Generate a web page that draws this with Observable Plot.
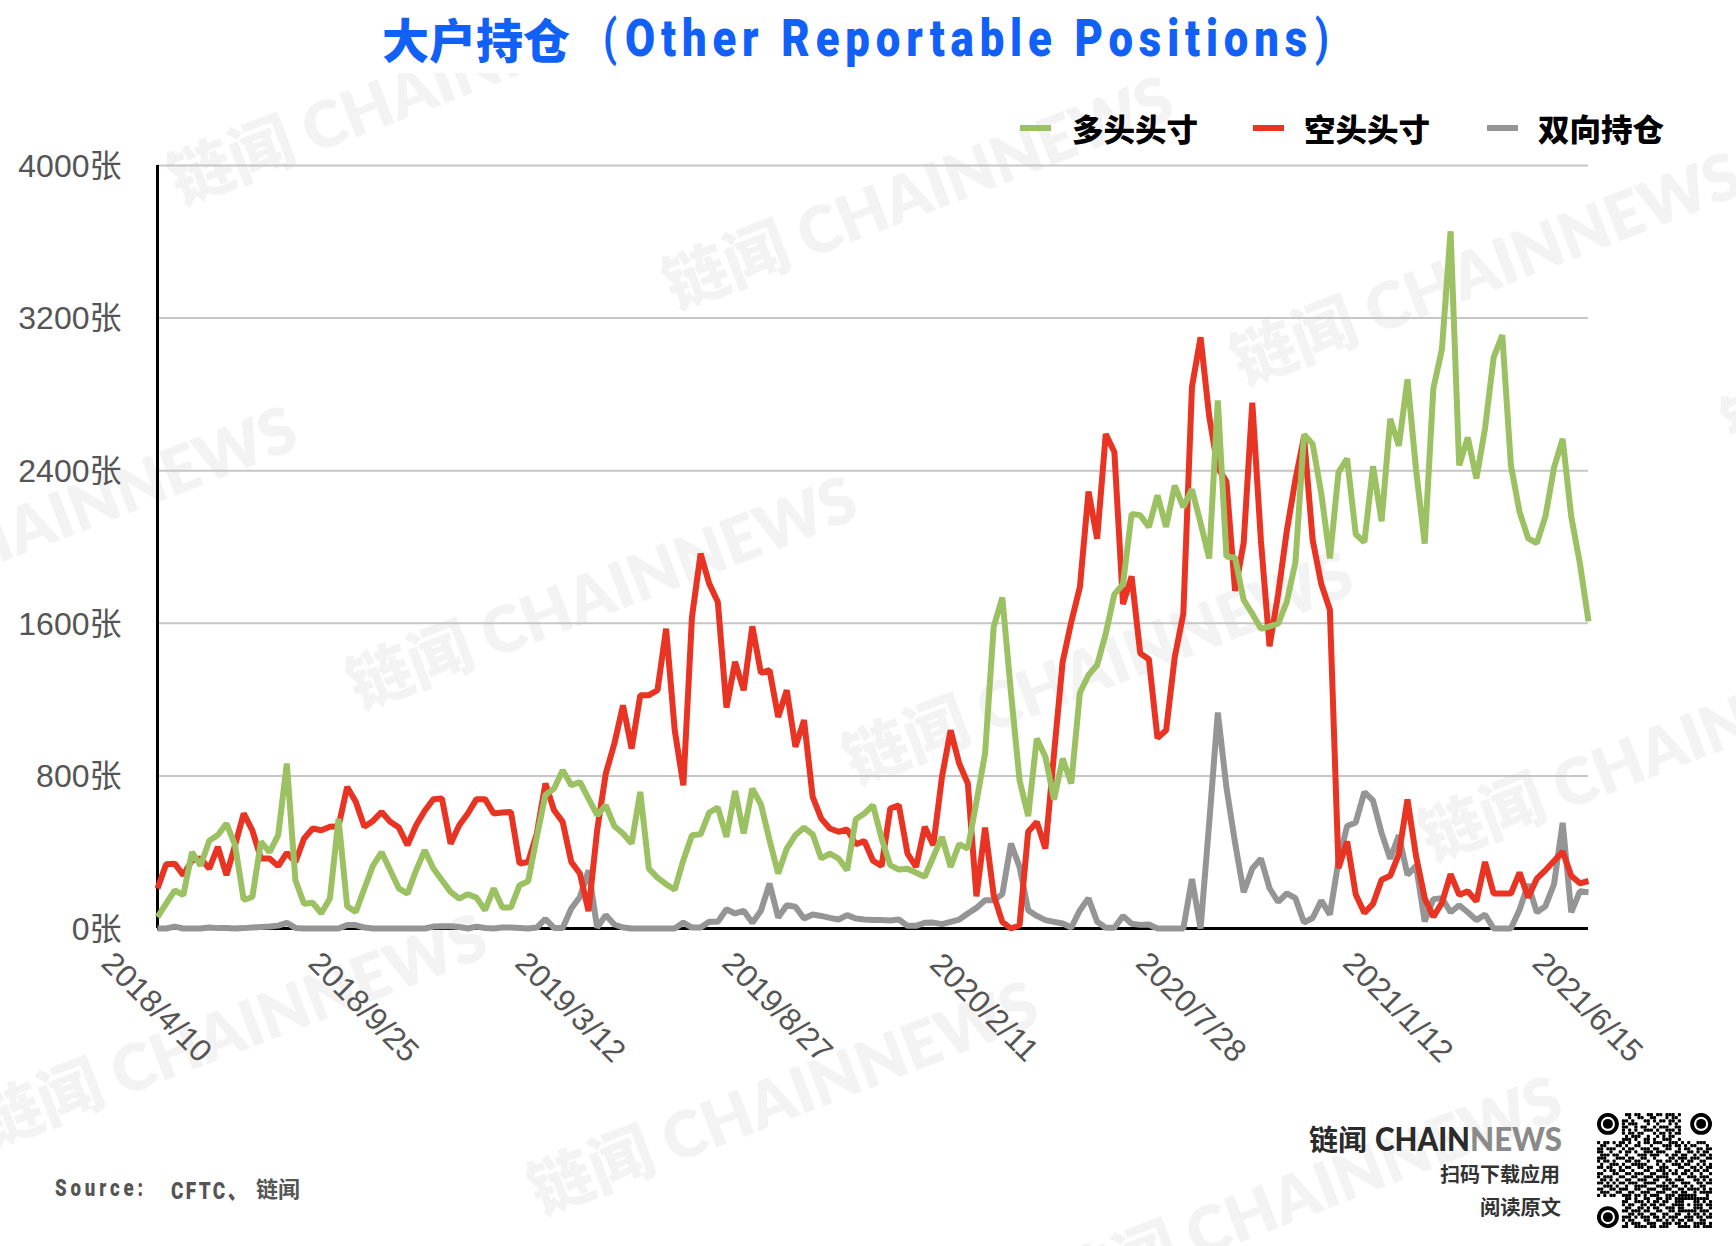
<!DOCTYPE html>
<html lang="zh">
<head>
<meta charset="utf-8">
<script src="https://cdn.jsdelivr.net/npm/d3@7"></script>
<script src="https://cdn.jsdelivr.net/npm/@observablehq/plot@0.6"></script>
<style>
html,body{margin:0;padding:0;background:#fff;overflow:hidden}
#stage{position:relative;width:1736px;height:1246px;overflow:hidden;background:#fff}
#marks,#chart,#over{position:absolute;left:0;top:0;width:1736px;height:1246px}
#chart svg{background:transparent;display:block;max-width:none}
.t{position:absolute;white-space:nowrap;line-height:1;transform-origin:left center}
</style>
</head>
<body>
<div id="stage"><div id="marks"></div><div id="chart"></div><div id="over"></div></div>
<script>
const firstWeek = "2018-04-10";
const weekCount = 167;
const tickLabels = ["2018/4/10","2018/9/25","2019/3/12","2019/8/27","2020/2/11","2020/7/28","2021/1/12","2021/6/15"];
const yTicks = [0,800,1600,2400,3200,4000];
const longPositions = [60,130,200,175,400,330,460,490,550,437,150,165,455,400,490,865,253,130,135,80,157,575,117,87,210,330,400,305,210,183,305,410,315,253,192,157,180,162,96,210,110,110,227,248,480,700,733,830,751,768,681,594,646,536,498,445,716,314,267,232,204,358,489,494,608,634,480,721,498,733,651,463,288,419,489,529,494,367,393,367,306,573,603,646,472,332,309,313,292,271,376,480,323,442,419,664,917,1581,1735,1240,777,589,996,900,676,891,760,1236,1329,1381,1546,1753,1805,2173,2167,2105,2271,2105,2322,2209,2302,2126,1940,2768,1950,1944,1722,1650,1571,1584,1598,1712,1919,2590,2540,2281,1940,2391,2464,2067,2025,2423,2135,2672,2530,2879,2403,2018,2830,3038,3655,2428,2574,2359,2623,2994,3111,2428,2184,2045,2020,2159,2416,2567,2159,1915,1610];
const shortPositions = [210,337,340,280,358,367,314,428,280,437,603,515,367,367,327,397,349,472,524,515,533,536,742,664,533,564,611,559,529,437,541,617,678,681,445,541,603,678,678,603,608,611,341,349,498,760,620,559,349,288,91,515,812,970,1170,943,1223,1223,1249,1572,1039,751,1633,1965,1808,1712,1158,1398,1249,1584,1340,1354,1109,1249,952,1092,690,576,524,507,519,442,459,355,328,629,646,393,323,533,437,795,1039,865,760,169,529,175,35,0,17,507,559,419,917,1398,1607,1790,2291,2043,2592,2498,1701,1846,1443,1412,998,1039,1422,1650,2840,3099,2685,2416,2343,1770,2022,2757,2033,1480,1753,2084,2353,2578,2037,1806,1671,317,456,178,81,129,256,276,390,676,378,159,61,134,285,176,195,142,349,183,183,183,293,163,261,305,354,403,276,237,249];
const spreadPositions = [0,0,10,0,0,0,5,2,2,0,2,5,8,10,15,30,3,0,0,0,0,0,18,18,5,0,0,0,0,0,0,0,10,12,12,8,0,10,3,0,5,5,3,0,5,50,3,3,105,165,305,5,70,21,5,0,0,0,0,0,0,31,5,5,35,35,101,79,93,30,93,236,58,122,114,52,73,66,56,47,70,52,47,45,45,42,47,14,14,30,31,23,35,47,79,108,148,148,180,445,323,96,66,44,35,26,5,96,159,35,4,4,66,25,19,21,0,0,0,0,259,0,553,1132,739,449,190,315,366,211,139,184,159,31,55,146,73,354,537,556,715,671,500,366,488,281,329,37,154,159,85,122,85,44,73,0,0,0,98,232,85,117,232,554,85,195,190];

const seriesColors = {long:"#9BC163", short:"#E93323", spread:"#959595"};
const legendNames = ["多头头寸","空头头寸","双向持仓"];
const fontUI = '"Liberation Sans","Noto Sans CJK SC",sans-serif';
const parseDay = d3.utcParse("%Y-%m-%d");
const parseTick = d3.utcParse("%Y/%-m/%-d");
const start = parseDay(firstWeek);
const weeks = d3.range(weekCount).map(i => d3.utcDay.offset(start, 7*i));
const table = vals => vals.map((v,i)=>({date:weeks[i],value:v}));
const lineStyle = {x:"date",y:"value",strokeWidth:6,strokeLinejoin:"miter",strokeLinecap:"butt",curve:"linear"};

const plot = Plot.plot({
  width:1736,height:1246,
  marginLeft:157,marginRight:148,marginTop:165,marginBottom:318,
  style:{background:"transparent",fontFamily:fontUI},
  x:{type:"utc",domain:[weeks[0],weeks[weekCount-1]]},
  y:{domain:[0,4000]},
  marks:[
    Plot.ruleY(yTicks.slice(1),{stroke:"#c6c6c6",strokeWidth:2}),
    Plot.axisY(yTicks,{tickSize:0,tickPadding:36,tickFormat:d=>d+"张",fontSize:32,fill:"#555",label:null,marginLeft:157,dy:1}),
    Plot.axisX(tickLabels.map(parseTick),{anchor:"bottom",tickSize:0,tickRotate:45,tickPadding:79,textAnchor:"middle",lineAnchor:"middle",tickFormat:d3.utcFormat("%Y/%-m/%-d"),fontSize:31.5,fill:"#555",label:null,dx:-1}),
    Plot.ruleX([weeks[0]],{stroke:"#000",strokeWidth:3}),
    Plot.ruleY([0],{stroke:"#000",strokeWidth:3}),
    Plot.line(table(spreadPositions),{...lineStyle,stroke:seriesColors.spread}),
    Plot.line(table(shortPositions),{...lineStyle,stroke:seriesColors.short}),
    Plot.line(table(longPositions),{...lineStyle,stroke:seriesColors.long})
  ]
});
document.getElementById("chart").appendChild(plot);

const marksEl=document.getElementById("marks"), over=document.getElementById("over");
function txt(parent,str,x,yc,font,color,fit,extra){
  const el=document.createElement("div");
  el.className="t"; el.textContent=str;
  el.style.cssText+=`left:${x}px;top:${yc}px;font:${font};color:${color};${extra||""}`;
  parent.appendChild(el);
  const k=fit?fit/el.getBoundingClientRect().width:1;
  el.style.transform=`translateY(-50%) scaleX(${k})`;
  return el;
}
// watermarks
const wmFont='800 64px Lato,"Noto Sans CJK SC",sans-serif';
[[186,222],[681,327],[-195,657],[365,727],[1249,403],[861,802],[1437,879],[-5,1165],[546,1232],[1070,1327],[1740,467]].forEach(([x,y])=>{
  const el=document.createElement("div");
  el.className="t"; el.textContent="链闻 CHAINNEWS";
  el.style.cssText+=`left:${x}px;top:${y}px;font:${wmFont};color:#f3f3f3;transform-origin:left bottom;transform:translateY(-100%) rotate(-21deg);`;
  marksEl.appendChild(el);
});
// white band behind the title
const band=document.createElement("div");
band.style.cssText="position:absolute;left:0;top:0;width:1736px;height:73px;background:#fff";
marksEl.appendChild(band);

// title
const titleBlue="#1160F8";
txt(over,"大户持仓",382,37,'900 47px "Noto Sans CJK SC"',titleBlue,188);
txt(over,"(",603,38,'700 50px Roboto',titleBlue,14);
txt(over,"Other Reportable Positions",625,38,'900 52px Roboto',titleBlue,688,"letter-spacing:7px;");
txt(over,")",1315,38,'700 50px Roboto',titleBlue,14);

// legend
[[1020,1072,seriesColors.long],[1253,1304,seriesColors.short],[1487,1538,seriesColors.spread]].forEach(([sx,tx,c],i)=>{
  const s=document.createElement("div");
  s.style.cssText=`position:absolute;left:${sx}px;top:125px;width:31px;height:6px;background:${c}`;
  over.appendChild(s);
  txt(over,legendNames[i],tx,127,'900 31px "Noto Sans CJK SC"',"#000",126);
});

// source
txt(over,"Source:",55,1188,'900 24px Roboto',"#555",92,"letter-spacing:5px;");
txt(over,"CFTC、",171,1188,'900 24px Roboto,"Noto Sans CJK SC"',"#555",78,"letter-spacing:3px;");
txt(over,"链闻",256,1187,'700 22px "Noto Sans CJK SC"',"#555",44);

// logo
txt(over,"链闻",1309,1138,'700 29px "Noto Sans CJK SC"',"#2b2b2b",58);
txt(over,"CHAIN",1375,1138,'900 32px Lato',"#2b2b2b",95);
txt(over,"NEWS",1470,1138,'900 32px Lato',"#8a8a8a",92);
txt(over,"扫码下载应用",1440,1173,'700 20px "Noto Sans CJK SC"',"#333",120);
txt(over,"阅读原文",1480,1206,'700 20px "Noto Sans CJK SC"',"#333",81);

// QR-like code block
const qrRows=[
"0000000001101100110110111010000000000",
"0000000000100110011000101100000000000",
"0000000011010001101011011010000000000",
"0000000010111000100100010100000000000",
"0000000011001011001011100110000000000",
"0000000010101001110100111010000000000",
"0000000010110110001011010110000000000",
"0000000001011100100101011000000000000",
"0000000011101001101001110010000000000",
"1011010110100101101110011101010011100",
"0110001101001100010001110110101100010",
"1101110010110011101100110010110011011",
"1100100101101001110111000110011010110",
"0111011001000111011100101101100101101",
"1110001110110011001000011011101110011",
"1011010001101100100110110101011001100",
"0100111010011111000101001110110010101",
"1101100101100110110011100011001101011",
"0010110110010001100111010100110110110",
"1100011001101110011001101101101001001",
"1011100110011001110111100010011101110",
"0110101001100111001100110111000110101",
"1101010110111001111001011001110011011",
"0011101001001111000111101100101001100",
"1100110111001100111001110011011110101",
"0111001100110011100111001101100101111",
"1010110011101101011100111011111100010",
"0000000001101001100110110111111111110",
"0000000011001110101101100111000110101",
"0000000010110011011011001111010111011",
"0000000001100110101100111011000111001",
"0000000011011101100110011011111101110",
"0000000000110110011001100110010110101",
"0000000011101011101101011100111011011",
"0000000010110001100110101011011001100",
"0000000001011100111001110110100111101",
"0000000011001111011011100011110110111"];
const NS="http://www.w3.org/2000/svg";
const qr=document.createElementNS(NS,"svg");
qr.setAttribute("viewBox","0 0 37 37");
qr.style.cssText="position:absolute;left:1597px;top:1113px;width:115px;height:115px";
qrRows.forEach((row,r)=>[...row].forEach((b,c)=>{
  if(b==="1"){const e=document.createElementNS(NS,"rect");
    e.setAttribute("x",c);e.setAttribute("y",r);e.setAttribute("width",1.02);e.setAttribute("height",1.02);e.setAttribute("rx",.3);qr.appendChild(e);}
}));
[[3.5,3.5],[33.5,3.5],[3.5,33.5]].forEach(([cx,cy])=>{
  const a=document.createElementNS(NS,"circle");
  a.setAttribute("cx",cx);a.setAttribute("cy",cy);a.setAttribute("r",2.9);a.setAttribute("fill","none");a.setAttribute("stroke","#000");a.setAttribute("stroke-width",1.25);qr.appendChild(a);
  const b=document.createElementNS(NS,"circle");
  b.setAttribute("cx",cx);b.setAttribute("cy",cy);b.setAttribute("r",1.6);qr.appendChild(b);
});
over.appendChild(qr);
</script>
</body>
</html>
